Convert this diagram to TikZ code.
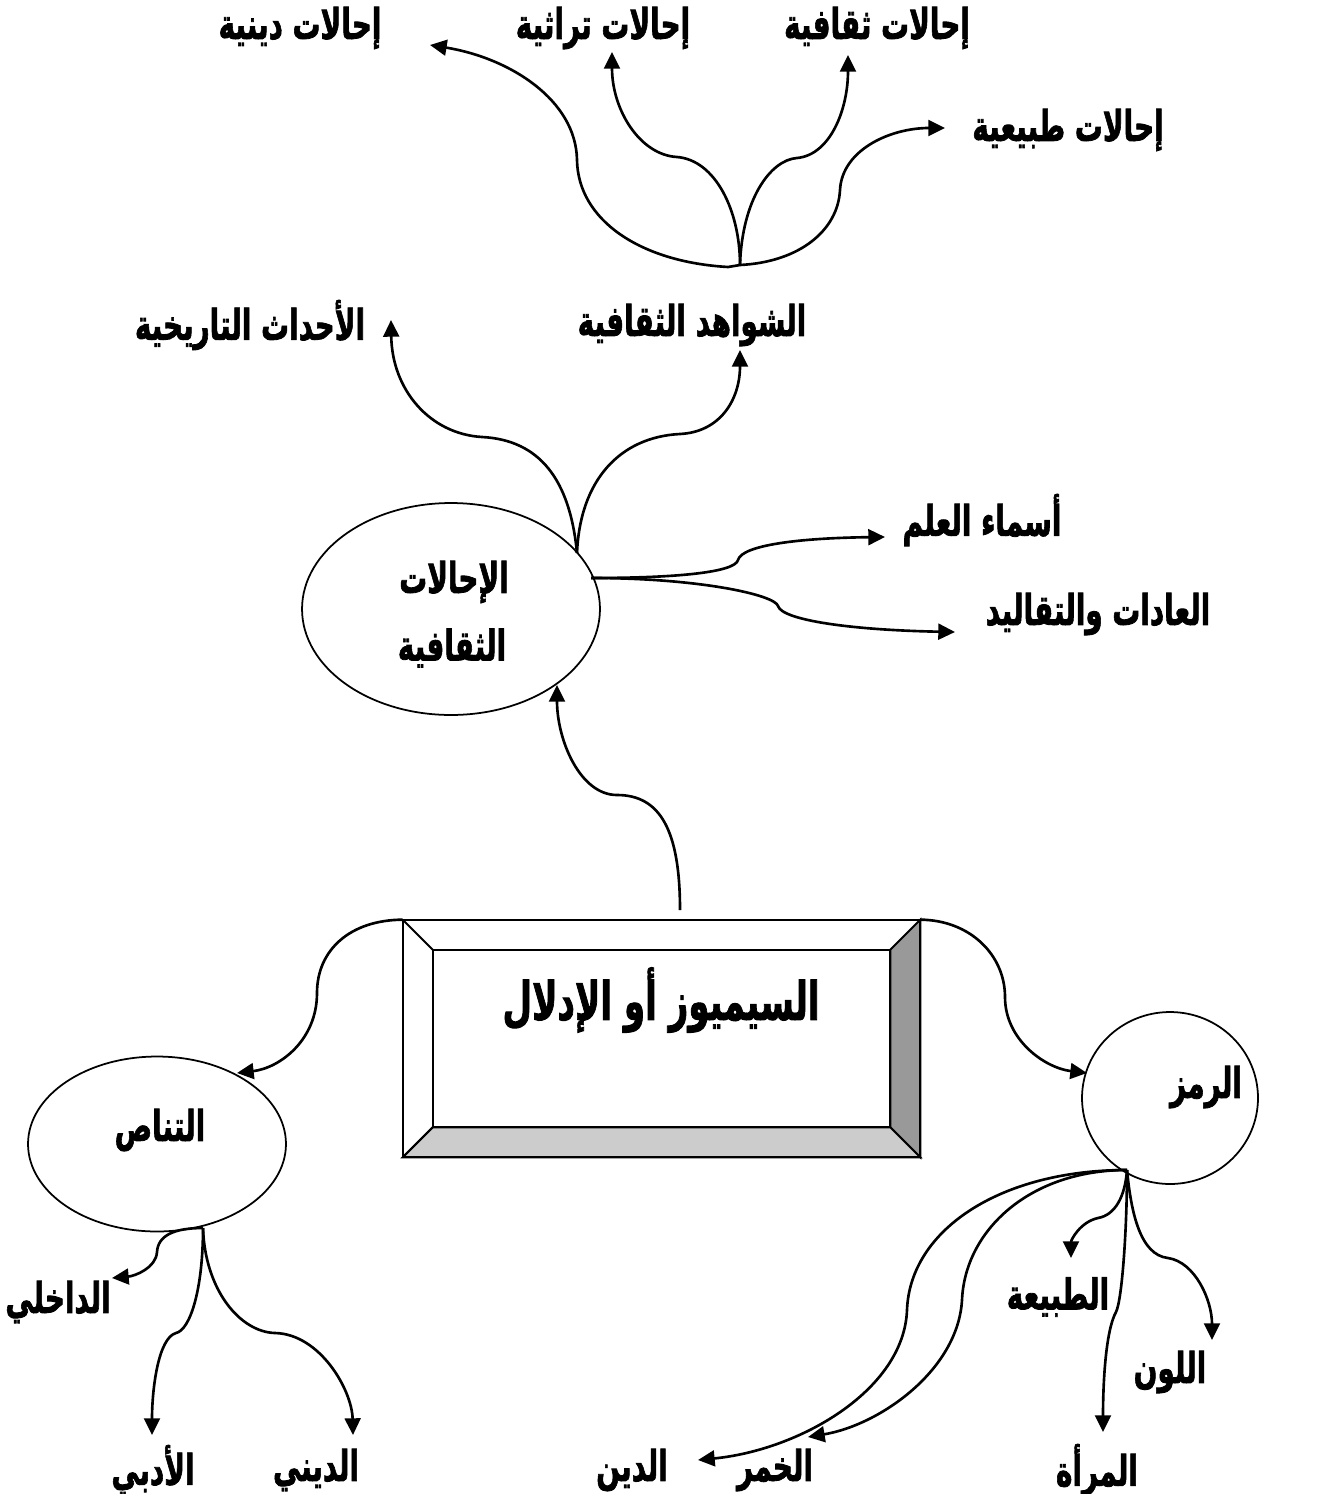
\documentclass[tikz,border=0pt]{standalone}
\usepackage{fontspec}
\usetikzlibrary{arrows.meta,shapes.geometric,calc}
\TeXXeTstate=1
\newfontfamily\arabicfont[Script=Arabic,BoldFeatures={FakeBold=2}]{DejaVu Sans}
% heavy Arabic label, condensed to get a tall narrow look
\newcommand{\artxt}[1]{\scalebox{0.66}[1]{\arabicfont\bfseries\beginR #1\endR}}
\definecolor{bevelDark}{HTML}{999999}
\definecolor{bevelLight}{HTML}{CCCCCC}
\begin{document}
\begin{tikzpicture}[x=0.02cm,y=-0.02cm,
  lbl/.style={font=\fontsize{24}{28}\selectfont, inner sep=0pt},
  biglbl/.style={font=\fontsize{30}{34}\selectfont, inner sep=0pt},
  link/.style={line width=1.5pt, -{Triangle[length=9.5pt,width=9pt]}},
  bubble/.style={draw, ellipse, line width=1pt, inner sep=0pt},
]
\useasboundingbox (0,0) rectangle (1339,1494);

% ---------- central bevelled box ----------
\node[inner sep=0pt, minimum width=10.34cm, minimum height=4.74cm] (box) at (661.5,1038.5) {};
\coordinate (iNW) at ($(box.north west)+(30,30)$);
\coordinate (iNE) at ($(box.north east)+(-30,30)$);
\coordinate (iSE) at ($(box.south east)+(-30,-30)$);
\coordinate (iSW) at ($(box.south west)+(30,-30)$);
\filldraw[fill=bevelDark, line width=1.1pt] (box.north east) -- (box.south east) -- (iSE) -- (iNE) -- cycle;
\filldraw[fill=bevelLight, line width=1.1pt] (box.south west) -- (box.south east) -- (iSE) -- (iSW) -- cycle;
\draw[line width=1.1pt] (box.north west) rectangle (box.south east);
\draw[line width=1.1pt] (iNW) rectangle (iSE);
\draw[line width=1.1pt] (box.north west) -- (iNW) (box.south west) -- (iSW);
\node[biglbl] (title) at (661,1000) {\scalebox{0.98}[1]{\artxt{السيميوز أو الإدلال}}};

% ---------- ellipses ----------
\node[bubble, minimum width=5.96cm, minimum height=4.24cm] (ihala) at (451,609) {};
\node[lbl] (ihalaA) at (454,582) {\artxt{الإحالات}};
\node[lbl] (ihalaB) at (452,648) {\artxt{الثقافية}};

\node[bubble, minimum width=5.16cm, minimum height=3.5cm] (tanas) at (157,1144) {};
\node[lbl] (tanasT) at (160,1130) {\artxt{التناص}};

\node[bubble, minimum width=3.52cm, minimum height=3.44cm] (ramz) at (1170,1098) {};
\node[lbl] (ramzT) at (1206,1087) {\artxt{الرمز}};

% ---------- labels ----------
\node[lbl] (dini)  at (300,28)  {\artxt{إحالات دينية}};
\node[lbl] (turath) at (603,28) {\artxt{إحالات تراثية}};
\node[lbl] (thaq)  at (877,28)  {\artxt{إحالات ثقافية}};
\node[lbl] (tabi)  at (1068,130) {\artxt{إحالات طبيعية}};
\node[lbl] (ahdath) at (250,325) {\artxt{الأحداث التاريخية}};
\node[lbl] (shawahid) at (692,325) {\artxt{الشواهد الثقافية}};
\node[lbl] (asma)  at (982,520) {\artxt{أسماء العلم}};
\node[lbl] (adat)  at (1098,614) {\artxt{العادات والتقاليد}};
\node[lbl] (dakhili) at (58,1302) {\artxt{الداخلي}};
\node[lbl] (adabi) at (153,1470) {\artxt{الأدبي}};
\node[lbl] (dinii) at (316,1470) {\artxt{الديني}};
\node[lbl] (khamr) at (775,1470) {\artxt{الخمر}};
\node[lbl] (din)   at (632,1470) {\artxt{الدين}};
\node[lbl] (marah) at (1097,1470) {\artxt{المرأة}};
\node[lbl] (tabia) at (1058,1297) {\artxt{الطبيعة}};
\node[lbl] (lawn)  at (1170,1372) {\artxt{اللون}};

% ---------- branch points and arrow ends ----------
\coordinate (hubT) at (740,265);
\coordinate (hubE1) at (577,553);
\coordinate (hubE2) at (591,578);
\coordinate (hubN) at (203,1228);
\coordinate (hubR) at (1127,1170);
\coordinate (boxtop) at (680,910);

\coordinate (tDini) at (430,45);
\coordinate (tTurath) at (612,52);
\coordinate (tThaq) at (848,55);
\coordinate (tTabi) at (945,128);
\coordinate (tAhdath) at (391,320);
\coordinate (tShaw) at (740,350);
\coordinate (tAsma) at (885,537);
\coordinate (tAdat) at (955,632);
\coordinate (tIhala) at (557,685);
\coordinate (tTanas) at (237,1073);
\coordinate (tRamz) at (1087,1073);
\coordinate (tDakh) at (112,1278);
\coordinate (tAdabi) at (152,1435);
\coordinate (tDinii) at (353,1435);
\coordinate (tTabia) at (1071,1258);
\coordinate (tMarah) at (1103,1432);
\coordinate (tLawn) at (1212,1340);
\coordinate (tKhamr) at (808,1437);
\coordinate (tDin) at (698,1460);

% ---------- top cluster ----------
\draw[link] (hubT) -- ++(-12,2) .. controls (640,262) and (578,220) .. (577,160)
  .. controls (576,100) and (510,58) .. (tDini);
\draw[link] (hubT) .. controls (740,210) and (715,160) .. (677,157)
  .. controls (640,155) and (612,110) .. (tTurath);
\draw[link] (hubT) .. controls (742,200) and (770,160) .. (797,158)
  .. controls (830,155) and (848,110) .. (tThaq);
\draw[link] (hubT) .. controls (800,262) and (838,230) .. (840,190)
  .. controls (842,150) and (890,128) .. (tTabi);

% ---------- cultural references cluster ----------
\draw[link] (hubE1) .. controls (570,480) and (540,440) .. (482,437)
  .. controls (430,434) and (392,390) .. (tAhdath);
\draw[link] (hubE1) .. controls (580,480) and (620,437) .. (680,434)
  .. controls (720,432) and (740,400) .. (tShaw);
\draw[link] (hubE2) .. controls (680,578) and (735,572) .. (738,560)
  .. controls (742,545) and (800,538) .. (tAsma);
\draw[link] (hubE2) .. controls (700,578) and (775,595) .. (778,606)
  .. controls (782,620) and (850,630) .. (tAdat);

% ---------- from the central box ----------
\draw[link] (boxtop) .. controls (680,830) and (660,795) .. (617,795)
  .. controls (580,795) and (557,740) .. (tIhala);
\draw[link] (box.north west) .. controls (350,920) and (317,950) .. (317,993)
  .. controls (317,1040) and (280,1068) .. (tTanas);
\draw[link] (box.north east) .. controls (970,920) and (1005,955) .. (1005,997)
  .. controls (1005,1040) and (1045,1068) .. (tRamz);

% ---------- intertextuality branches ----------
\draw[link] (hubN) .. controls (175,1228) and (158,1235) .. (157,1252)
  .. controls (156,1268) and (135,1276) .. (tDakh);
\draw[link] (hubN) .. controls (203,1290) and (190,1330) .. (176,1333)
  .. controls (158,1338) and (152,1390) .. (tAdabi);
\draw[link] (hubN) .. controls (205,1290) and (240,1332) .. (275,1333)
  .. controls (320,1334) and (352,1390) .. (tDinii);

% ---------- symbol branches ----------
\draw[link] (hubR) .. controls (1125,1197) and (1115,1215) .. (1098,1218)
  .. controls (1080,1222) and (1071,1240) .. (tTabia);
\draw[link] (hubR) .. controls (1127,1230) and (1122,1300) .. (1116,1312)
  .. controls (1106,1330) and (1103,1380) .. (tMarah);
\draw[link] (hubR) .. controls (1131,1212) and (1140,1255) .. (1168,1258)
  .. controls (1195,1262) and (1212,1300) .. (tLawn);
\draw[link] (hubR) .. controls (1030,1170) and (965,1230) .. (962,1300)
  .. controls (958,1370) and (880,1425) .. (tKhamr);
\draw[link] (hubR) .. controls (1000,1170) and (910,1230) .. (907,1310)
  .. controls (904,1390) and (800,1450) .. (tDin);
\end{tikzpicture}
\end{document}
